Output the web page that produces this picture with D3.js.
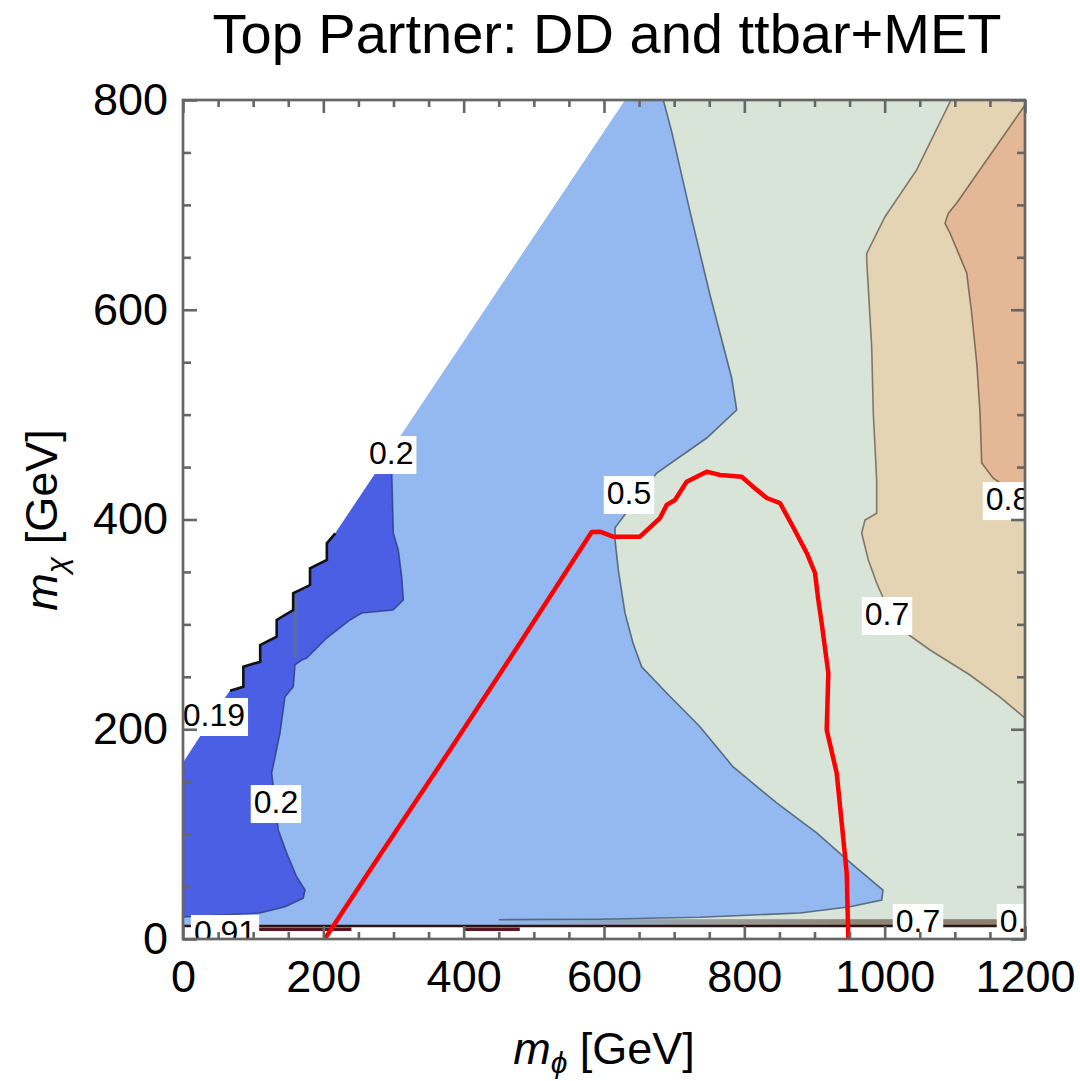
<!DOCTYPE html>
<html>
<head>
<meta charset="utf-8">
<script src="https://cdn.jsdelivr.net/npm/d3@7"></script>
<style>
  html, body { margin: 0; padding: 0; background: #fff; }
  svg { display: block; font-family: "Liberation Sans", Arial, sans-serif; }
</style>
</head>
<body>
<svg id="chart" width="1080" height="1081"></svg>
<script>
// axes
var xTicks = [0, 200, 400, 600, 800, 1000, 1200];
var yTicks = [0, 200, 400, 600, 800];

// edge of the allowed region (white above it), m_phi vs m_chi
var edgeStart = [[0, 168], [64, 234]];
var stairs = [[67, 236.8], [86, 240.6], [86, 259.6], [110, 264.4], [110, 280.3], [133.5, 288.2],
  [133.5, 304.2], [157, 313.7], [157, 329.6], [181, 337.5], [181, 353.5], [205, 361.4],
  [205, 377.3], [217, 386.8]];
var edgeEnd = [[630, 800]];

// 0.2 contour (dark blue region, right side)
var contour02 = [[280.8, 450.8], [297.4, 450.8], [297.4, 447.2], [299.7, 387.1], [306.8, 370.9],
  [311.7, 345.2], [314.0, 323.2], [299.3, 313.7], [254.7, 310.8], [238.0, 304.2], [204.8, 287.0],
  [176.3, 267.9], [169.2, 266.0], [159.6, 261.3], [157.2, 240.6], [145.4, 231.0], [138.2, 196.4],
  [126.4, 158.3], [135.8, 103.9], [147.8, 82.0], [162.0, 59.4], [173.9, 46.7], [171.4, 38.8],
  [145.4, 30.8], [109.7, 24.8], [24.2, 21.9], [0, 21]];
var notch02 = [[160, 268], [160, 332]];

// 0.5 contour
var contour05 = [[684.5, 800], [696.5, 769.8], [722.6, 693.5], [751.1, 614.1], [782.0, 534.9],
  [789.1, 504.4], [746.4, 477.7], [675.1, 444.3], [627.5, 402.7], [615.7, 392.1], [615.7, 380.5],
  [620.4, 351.9], [629.9, 310.9], [641.3, 282.2], [653.7, 259.6], [689.3, 234.6], [736.8, 202.4],
  [783.8, 164.3], [846.1, 129.7], [903.1, 101.1], [954.9, 70.6], [997.6, 46.7], [995.8, 37.2],
  [950.6, 30.8], [879.3, 24.8], [736.8, 20.7], [594.3, 18.8], [450, 18.4]];

// 0.7 contour
var contour07 = [[1094.5, 800], [1045.6, 733.3], [1000.5, 688.7], [974.4, 653.8], [974.4, 647.4],
  [981.5, 564.8], [983.8, 501.5], [988.6, 437.7], [988.6, 405.9], [972.0, 399.5], [967.2, 387.1],
  [976.7, 361.4], [988.6, 339.5], [1014.7, 299.4], [1064.6, 275.6], [1121.6, 251.7],
  [1164.3, 230.7], [1200, 210.7]];

// 0.8 contour
var contour08 = [[1200, 795.2], [1102.7, 701.8], [1090.7, 691.9], [1086.0, 682.4], [1093.1, 673.2],
  [1116.9, 635.0], [1124.0, 596.9], [1131.2, 549.2], [1135.9, 501.5], [1138.3, 453.9],
  [1154.4, 439.6], [1178.6, 428.2], [1200, 423.4]];

// thin strip at m_chi ~ 0
var stripLow = 12.4, stripHigh = 18.8;
var stripDark = [[105, 240], [400, 480]];

// ttbar+MET exclusion line
var redCurve = [[202, 0], [280.8, 80.1], [380.5, 180.2], [480.3, 282.2], [582.5, 388.1],
  [594.3, 388.4], [612.8, 383.6], [651.3, 383.6], [679.8, 401.4], [689.3, 413.8], [701.2, 418.6],
  [717.8, 436.0], [746.4, 445.6], [765.3, 442.4], [796.2, 440.8], [812.3, 431.3], [831.9, 420.5],
  [850.8, 415.7], [869.3, 393.1], [888.9, 368.1], [900.7, 349.0], [905.4, 323.2], [910.2, 301.3],
  [919.7, 253.6], [917.4, 199.3], [931.6, 158.3], [938.8, 110.6], [945.9, 62.9], [948.2, 0]];

var labels = [
  {t: "0.2", x: 296.7, y: 463.4}, {t: "0.5", x: 635.6, y: 425.3}, {t: "0.8", x: 1175.8, y: 419.5},
  {t: "0.7", x: 1003.3, y: 309.9}, {t: "0.19", x: 44, y: 213.6}, {t: "0.2", x: 132.5, y: 130.6},
  {t: "0.91", x: 59.9, y: 6.7}, {t: "0.7", x: 1047.5, y: 17.2}, {t: "0.7", x: 1195.7, y: 17.2}
];

var svg = d3.select('#chart');
var x = d3.scaleLinear().domain([0, 1200]).range([183, 1025]);
var y = d3.scaleLinear().domain([0, 800]).range([939, 100]);
var line = d3.line().x(function(d) { return x(d[0]); }).y(function(d) { return y(d[1]); });

var defs = svg.append('defs');
defs.append('clipPath').attr('id', 'plotClip')
  .append('rect').attr('x', x(0)).attr('y', y(800))
  .attr('width', x(1200) - x(0)).attr('height', y(0) - y(800));
var grad = defs.append('linearGradient').attr('id', 'stripGrad')
  .attr('gradientUnits', 'userSpaceOnUse')
  .attr('x1', x(450)).attr('x2', x(1200)).attr('y1', 0).attr('y2', 0);
[[0, '#93b9f0'], [0.2, '#8fa6c4'], [0.4, '#9a9f9e'], [0.65, '#8e877a'], [1, '#8a7d6a']]
  .forEach(function(s) { grad.append('stop').attr('offset', s[0]).attr('stop-color', s[1]); });

var plot = svg.append('g').attr('clip-path', 'url(#plotClip)');

var domainPoly = [[0, stripLow]].concat(edgeStart, stairs, edgeEnd, [[1200, 800], [1200, stripLow]]);
var darkPoly = [[0, 21]].concat(edgeStart, stairs, contour02);
var greenPoly = contour05.concat([[1200, stripHigh], [1200, 800]]);
var tanPoly = contour07.concat([[1200, 800]]);
var orangePoly = contour08;
var stripPoly = [[450, stripLow], [1200, stripLow], [1200, stripHigh], [450, stripHigh]];

plot.append('path').datum(domainPoly).attr('d', line).attr('fill', '#93b9f0');
plot.append('path').datum(greenPoly).attr('d', line).attr('fill', '#d8e4d8');
plot.append('path').datum(tanPoly).attr('d', line).attr('fill', '#e4d4b4');
plot.append('path').datum(orangePoly).attr('d', line).attr('fill', '#e4b896');
plot.append('path').datum(darkPoly).attr('d', line).attr('fill', '#4a5fe3');
plot.append('path').datum(stripPoly).attr('d', line).attr('fill', 'url(#stripGrad)');

// contour lines
plot.append('path').datum(contour02).attr('d', line)
  .attr('fill', 'none').attr('stroke', '#2c3c80').attr('stroke-opacity', 0.8).attr('stroke-width', 1.6);
plot.append('path').datum(notch02).attr('d', line)
  .attr('fill', 'none').attr('stroke', '#5a6f96').attr('stroke-width', 2.5);
plot.append('path').datum(contour05).attr('d', line)
  .attr('fill', 'none').attr('stroke', '#4a5a70').attr('stroke-opacity', 0.85).attr('stroke-width', 1.6);
plot.append('path').datum(contour07).attr('d', line)
  .attr('fill', 'none').attr('stroke', '#6e6658').attr('stroke-opacity', 0.85).attr('stroke-width', 1.6);
plot.append('path').datum(contour08).attr('d', line)
  .attr('fill', 'none').attr('stroke', '#6e5e4e').attr('stroke-opacity', 0.85).attr('stroke-width', 1.6);
plot.append('path').datum(stairs).attr('d', line)
  .attr('fill', 'none').attr('stroke', '#111').attr('stroke-width', 2.6);

// strip lines near m_chi = 0
plot.append('path').datum([[0, stripLow], [1200, stripLow]]).attr('d', line)
  .attr('stroke', '#2a1414').attr('stroke-width', 2.6);
plot.selectAll('.stripDark').data(stripDark).enter().append('path')
  .attr('class', 'stripDark')
  .attr('d', function(d) { return line([[d[0], stripLow - 3], [d[1], stripLow - 3]]); })
  .attr('stroke', '#5c1424').attr('stroke-width', 3.5);

// red line
plot.append('path').datum(redCurve).attr('d', line)
  .attr('fill', 'none').attr('stroke', '#ff0000').attr('stroke-width', 4.5)
  .attr('stroke-linejoin', 'round');

// contour labels
var lab = plot.selectAll('.lab').data(labels).enter().append('g').attr('class', 'lab');
lab.each(function(d) {
  var g = d3.select(this);
  var t = g.append('text').attr('x', x(d.x)).attr('y', y(d.y))
    .attr('text-anchor', 'middle').attr('dominant-baseline', 'central')
    .style('font-size', '32px').attr('fill', '#000').text(d.t);
  var b = t.node().getBBox();
  g.insert('rect', 'text').attr('x', b.x - 3).attr('y', b.y + 1)
    .attr('width', b.width + 6).attr('height', b.height + 2).attr('fill', '#fff');
});

// frame + ticks
var xMinor = d3.range(0, 1201, 50).filter(function(v) { return v % 200; });
var yMinor = d3.range(0, 801, 50).filter(function(v) { return v % 200; });
var fmt = d3.format('d');

function styleAxis(g) {
  g.select('.domain').remove();
  g.selectAll('.tick line').attr('stroke', '#666').attr('stroke-width', 2.6);
  g.selectAll('.tick text').attr('fill', '#000').style('font-size', '45px')
    .style('font-family', '"Liberation Sans", Arial, sans-serif');
}

svg.append('g').attr('transform', 'translate(0,' + y(0) + ')')
  .call(d3.axisBottom(x).tickValues(xTicks).tickFormat(fmt).tickSize(-13).tickPadding(21)).call(styleAxis);
svg.append('g').attr('transform', 'translate(0,' + y(0) + ')')
  .call(d3.axisBottom(x).tickValues(xMinor).tickSize(-7).tickFormat('')).call(styleAxis);
svg.append('g').attr('transform', 'translate(0,' + y(800) + ')')
  .call(d3.axisTop(x).tickValues(xTicks).tickSize(-13).tickFormat('')).call(styleAxis);
svg.append('g').attr('transform', 'translate(0,' + y(800) + ')')
  .call(d3.axisTop(x).tickValues(xMinor).tickSize(-7).tickFormat('')).call(styleAxis);
svg.append('g').attr('transform', 'translate(' + x(0) + ',0)')
  .call(d3.axisLeft(y).tickValues(yTicks).tickFormat(fmt).tickSize(-14).tickPadding(15)).call(styleAxis);
svg.append('g').attr('transform', 'translate(' + x(0) + ',0)')
  .call(d3.axisLeft(y).tickValues(yMinor).tickSize(-8).tickFormat('')).call(styleAxis);
svg.append('g').attr('transform', 'translate(' + x(1200) + ',0)')
  .call(d3.axisRight(y).tickValues(yTicks).tickSize(-14).tickFormat('')).call(styleAxis);
svg.append('g').attr('transform', 'translate(' + x(1200) + ',0)')
  .call(d3.axisRight(y).tickValues(yMinor).tickSize(-8).tickFormat('')).call(styleAxis);

svg.append('rect').attr('x', x(0)).attr('y', y(800))
  .attr('width', x(1200) - x(0)).attr('height', y(0) - y(800))
  .attr('fill', 'none').attr('stroke', '#666').attr('stroke-width', 2.7);

// titles
svg.append('text').attr('x', 607).attr('y', 53).attr('text-anchor', 'middle')
  .style('font-size', '56px').attr('fill', '#000').text('Top Partner: DD and ttbar+MET');

var xt = svg.append('text').attr('x', 604).attr('y', 1064).attr('text-anchor', 'middle')
  .style('font-size', '45px').attr('fill', '#000');
xt.append('tspan').style('font-style', 'italic').text('m');
xt.append('tspan').style('font-style', 'italic').style('font-size', '30px').attr('dy', 9).text('\u03d5');
xt.append('tspan').attr('dy', -9).text(' [GeV]');

var yt = svg.append('text').attr('transform', 'translate(57,520) rotate(-90)').attr('text-anchor', 'middle')
  .style('font-size', '45px').attr('fill', '#000');
yt.append('tspan').style('font-style', 'italic').text('m');
yt.append('tspan').style('font-style', 'italic').style('font-size', '30px').attr('dy', 10).text('\u03c7');
yt.append('tspan').attr('dy', -10).text(' [GeV]');
</script>
</body>
</html>
